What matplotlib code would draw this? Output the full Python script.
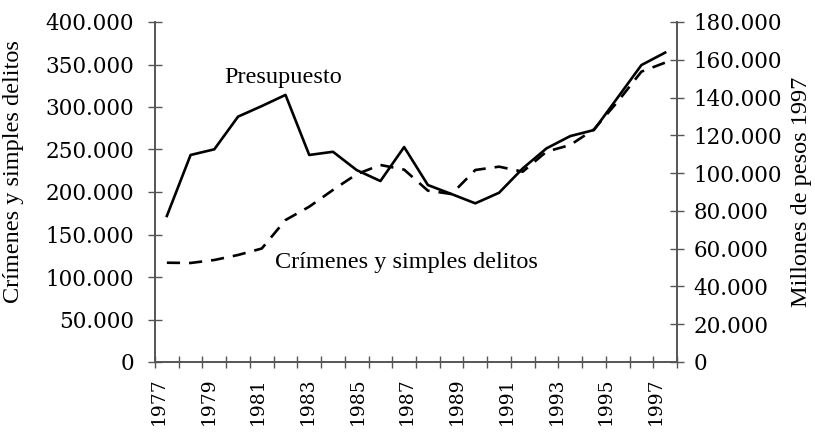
import numpy as np
import matplotlib
matplotlib.use("Agg")
import matplotlib.pyplot as plt
from matplotlib.ticker import FuncFormatter

# Data
years = list(range(1977, 1999))
crimenes = [116800, 116500, 120000, 125900, 133500, 167000, 182700, 202400,
            221000, 231800, 226300, 201600, 197600, 225900, 229800, 223900,
            247500, 255300, 273700, 306300, 341600, 352200]
presupuesto = [77.3, 109.6, 112.6, 129.9, 135.5, 141.4, 109.6, 111.3,
               101.6, 95.8, 113.8, 93.7, 88.9, 84.0, 89.6, 102.5,
               113.1, 119.6, 122.8, 140.0, 157.2, 163.8]
label_years = list(range(1977, 1998, 2))

left_ticks = list(range(0, 400001, 50000))
right_ticks = list(range(0, 180001, 20000))

serif = "DejaVu Serif"
text_font = "Liberation Serif"
axis_color = "#555555"


def miles(v, pos=None):
    return f"{int(round(v)):,}".replace(",", ".")


fig = plt.figure(figsize=(8.15, 4.32), dpi=100)
ax = fig.add_axes([155 / 815, 1 - 362 / 432, 522 / 815, 340 / 432])
ax2 = ax.twinx()

x = np.arange(len(years))
ax.plot(x, crimenes, color="black", lw=1.9, linestyle=(0, (5, 3.4)))
ax2.plot(x, np.array(presupuesto) * 1000, color="black", lw=1.9)

ax.set_xlim(-0.5, len(years) - 0.5)
ax.set_ylim(0, 400000)
ax2.set_ylim(0, 180000)

# category boundaries carry the tick marks, labels sit on their own ticks
ax.set_xticks(np.arange(-0.5, len(years)), minor=True)
lab_pos = [(y - 1977) * len(years) / (len(years) - 1) - 0.35 for y in label_years]
ax.set_xticks(lab_pos)
ax.set_xticklabels([str(y) for y in label_years], rotation=90,
                   fontsize=13.5, family=serif)
ax.tick_params(axis="x", which="major", length=0, pad=11)
ax.tick_params(axis="x", which="minor", length=8, direction="inout",
               color=axis_color, width=1)

ax.set_yticks(left_ticks)
ax.yaxis.set_major_formatter(FuncFormatter(miles))
ax.tick_params(axis="y", length=10, direction="inout", color=axis_color,
               width=1, pad=10, labelsize=15.5)
ax2.set_yticks(right_ticks)
ax2.yaxis.set_major_formatter(FuncFormatter(miles))
ax2.tick_params(axis="y", length=10, direction="inout", color=axis_color,
                width=1, pad=7, labelsize=15.5)
for lab in ax.get_yticklabels() + ax2.get_yticklabels():
    lab.set_family(serif)

for a in (ax, ax2):
    a.spines["top"].set_visible(False)
    for s in ("left", "right", "bottom"):
        a.spines[s].set_color(axis_color)
        a.spines[s].set_linewidth(1.2)

ax.set_ylabel("Crímenes y simples delitos", family=text_font, fontsize=17.5)
ax2.set_ylabel("Millones de pesos 1997", family=text_font, fontsize=17.5,
               labelpad=6)
ax.yaxis.set_label_coords(-0.25, 0.56)

ax.text(4.9, 335000, "Presupuesto", family=text_font, fontsize=17.5,
        ha="center", va="center")
ax.text(10.1, 116800, "Crímenes y simples delitos", family=text_font,
        fontsize=17.5, ha="center", va="center")

fig.savefig("out.png", dpi=100)
